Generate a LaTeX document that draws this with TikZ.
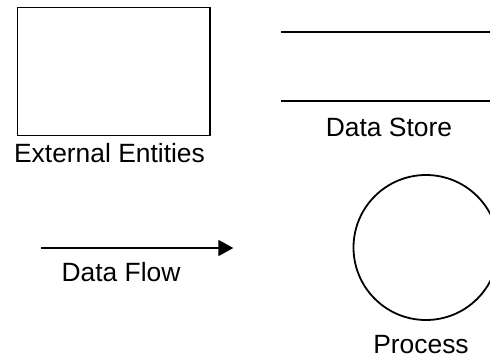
\documentclass[tikz,border=0pt]{standalone}
\usepackage{fontspec}
\setmainfont{Liberation Sans}
\usetikzlibrary{arrows.meta}

\begin{document}
\begin{tikzpicture}[x=0.5pt, y=-0.5pt,
    symbol/.style={draw=black, line width=0.9pt, inner sep=0pt},
    caption/.style={anchor=base, inner sep=0pt, font=\fontsize{13.2}{16}\selectfont}]
    % Define the size of the page
    \useasboundingbox (0, 0) rectangle (490, 358);

    \begin{scope}
      % Create the rectangle for the external entities
      \node[symbol, rectangle, minimum width=96.2pt, minimum height=64pt] (entity) at (113.7, 71.5) {};

      % Text under the rectangle
      \node[caption] (entityText) at (109.5, 162.3) {External Entities};
    \end{scope}

    \begin{scope}
      % Calculate the ends of the two lines of the store
      \coordinate (storeTopLeft) at (281, 32);
      \coordinate (storeTopRight) at (500, 32);
      \coordinate (storeBottomLeft) at (281, 101);
      \coordinate (storeBottomRight) at (500, 101);

      % Create the two lines
      \draw[line width=0.9pt] (storeTopLeft) -- (storeTopRight);
      \draw[line width=0.9pt] (storeBottomLeft) -- (storeBottomRight);

      % Text under the lines
      \node[caption] (storeText) at (389, 136) {Data Store};
    \end{scope}

    \begin{scope}
      % Calculate the ends of the arrow
      \coordinate (flowStart) at (41.3, 248);
      \coordinate (flowEnd) at (233.3, 248);

      % Create the arrow
      \draw[line width=0.9pt, -{Triangle[length=7.5pt, width=8pt]}] (flowStart) -- (flowEnd);

      % Text under the arrow
      \node[caption] (flowText) at (121, 281) {Data Flow};
    \end{scope}

    \begin{scope}
      % Create the circle for the process
      \node[symbol, circle, minimum size=72.5pt] (process) at (426, 247.5) {};

      % Text under the circle
      \node[caption] (processText) at (421, 353.3) {Process};
    \end{scope}
  \end{tikzpicture}
\end{document}
